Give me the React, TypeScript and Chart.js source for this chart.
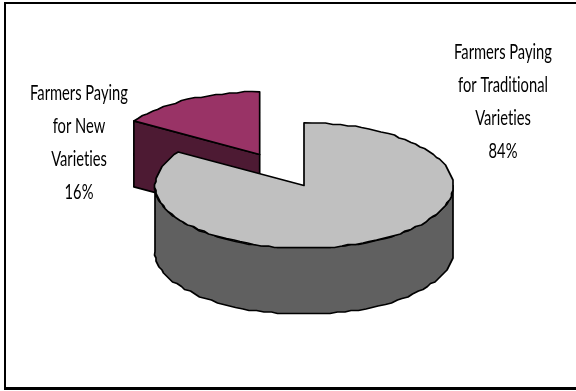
import { useEffect, useRef } from "react";
import { Chart, PieController, ArcElement } from "chart.js";

const categories = ["Farmers Paying for Traditional Varieties", "Farmers Paying for New Varieties"];
const shares = [84, 16];
const labelLines = [
  ["Farmers Paying", "for Traditional", "Varieties"],
  ["Farmers Paying", "for New", "Varieties"],
];
const topColors = ["#C0C0C0", "#993366"];
const wallColors = ["#606060", "#4D1A33"];
const sliceOffsets = [0, 92];

const TILT = 0.42;
const OFFSET_TILT = 0.385;
const DEPTH = 66;
const LABEL_SPOTS = [
  { x: 503, y: 52 },
  { x: 79, y: 93 },
];
const LINE_GAP = 33;

type Pt = [number, number];

// Pie controller that projects its arcs onto a tilted plane and extrudes them.
class TiltedPieController extends PieController {
  static id = "tiltedPie";
  static defaults = PieController.defaults;
  static overrides = PieController.overrides;

  draw() {
    const ctx = this.chart.ctx;
    const arcs = this.getMeta().data as any[];
    const pieces = arcs.map((arc, i) => {
      const { x, y, startAngle, endAngle, outerRadius } = arc.getProps(
        ["x", "y", "startAngle", "endAngle", "outerRadius"],
        true,
      );
      const mid = (startAngle + endAngle) / 2;
      const off = arc.options.offset || 0;
      const cx = x + Math.cos(mid) * off;
      const cy = y + Math.sin(mid) * off * OFFSET_TILT;
      const at = (a: number, drop = 0): Pt => [
        cx + Math.cos(a) * outerRadius,
        cy + Math.sin(a) * outerRadius * TILT + drop,
      ];
      return { i, cx, cy, startAngle, endAngle, at };
    });

    // Slightly stepped outline, the way a coarse vector renderer traces a rim.
    const rim = (from: number, to: number, at: (a: number, d?: number) => Pt, drop = 0): Pt[] => {
      const n = Math.max(2, Math.round(Math.abs(to - from) / 0.05));
      const out: Pt[] = [];
      for (let k = 0; k <= n; k++) {
        const [px, py] = at(from + ((to - from) * k) / n, drop);
        const edge = k === 0 || k === n;
        out.push(edge ? [px, py] : [Math.round(px / 1.5) * 1.5, Math.round(py / 1.5) * 1.5]);
      }
      return out;
    };
    const shape = (pts: Pt[], fill: string) => {
      ctx.beginPath();
      pts.forEach(([px, py], k) => (k ? ctx.lineTo(px, py) : ctx.moveTo(px, py)));
      ctx.closePath();
      ctx.fillStyle = fill;
      ctx.fill();
      ctx.stroke();
    };

    ctx.save();
    ctx.strokeStyle = "#000";
    ctx.lineWidth = 1.7;
    ctx.lineJoin = "round";

    // Back slice first, so the main body overlaps it.
    for (const p of [...pieces].reverse()) {
      const wallFill = wallColors[p.i];
      if (p.i === 1) {
        const a: Pt = [p.cx, p.cy];
        const b = p.at(p.startAngle);
        shape([a, b, [b[0], b[1] + DEPTH], [a[0], a[1] + DEPTH]], wallFill);
      } else {
        const from = Math.PI;
        const to = 0;
        shape([...rim(to, from, p.at), ...rim(from, to, p.at, DEPTH)], wallFill);
      }
      shape([[p.cx, p.cy], ...rim(p.startAngle, p.endAngle, p.at)], topColors[p.i]);
    }
    ctx.restore();
  }
}

// Writes the multi-line slice captions in a narrow face.
const sliceCaptions = {
  id: "sliceCaptions",
  afterDatasetsDraw(chart: Chart) {
    const ctx = chart.ctx as any;
    const values = chart.data.datasets[0].data as number[];
    ctx.save();
    ctx.fillStyle = "#000";
    ctx.font = "21px Lato";
    ctx.textAlign = "center";
    ctx.textBaseline = "middle";
    ctx.textRendering = "optimizeSpeed";
    values.forEach((v, i) => {
      const spot = LABEL_SPOTS[i];
      [...labelLines[i], `${v}%`].forEach((line, k) => {
        ctx.save();
        ctx.translate(spot.x, spot.y + k * LINE_GAP);
        ctx.scale(0.7, 1);
        ctx.fillText(line, 0, 0);
        ctx.restore();
      });
    });
    ctx.restore();
  },
};

Chart.register(TiltedPieController, ArcElement);

export default function App() {
  const ref = useRef<HTMLCanvasElement>(null);
  useEffect(() => {
    const chart = new Chart(ref.current!, {
      type: "tiltedPie" as any,
      data: {
        labels: categories,
        datasets: [
          {
            data: shares,
            backgroundColor: topColors,
            offset: sliceOffsets,
            clip: false,
          } as any,
        ],
      },
      options: {
        animation: false,
        responsive: false,
        radius: 149,
        layout: { padding: { left: 32, bottom: 20 } },
        plugins: { legend: { display: false }, tooltip: { enabled: false } },
      } as any,
      plugins: [sliceCaptions],
    });
    return () => chart.destroy();
  }, []);
  return (
    <div style={{ position: "fixed", left: 0, top: 0, width: 576, height: 391, background: "#fff", overflow: "hidden" }}>
      <canvas ref={ref} width={576} height={391} style={{ display: "block" }} />
      {/* Open-sided frame: top, left and bottom rules that run off the right edge. */}
      <div
        style={{
          position: "absolute",
          left: 4,
          top: 2,
          width: 572,
          height: 388,
          borderTop: "2px solid #000",
          borderLeft: "2px solid #000",
          borderBottom: "3px solid #000",
          boxSizing: "border-box",
        }}
      />
    </div>
  );
}
